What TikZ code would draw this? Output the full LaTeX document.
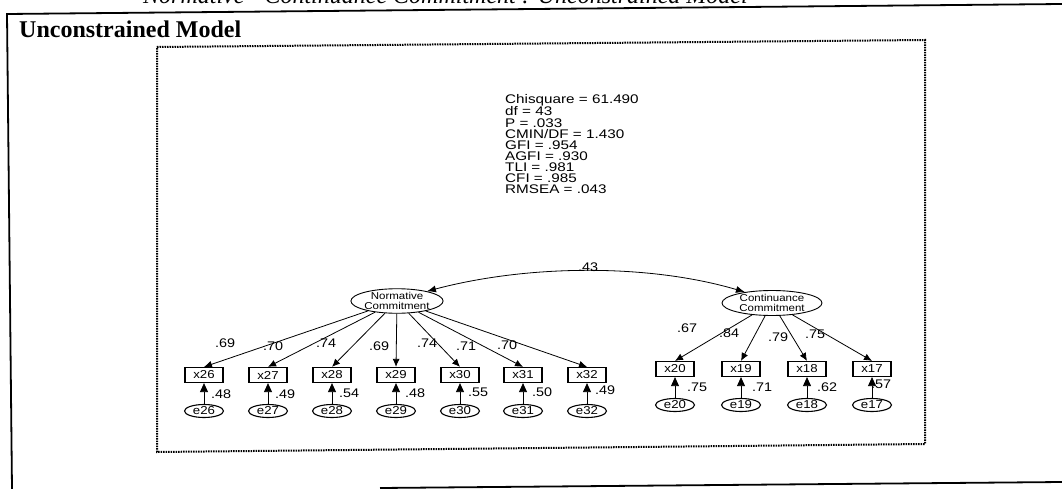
\documentclass[tikz,border=0pt]{standalone}
\usepackage{fontspec}
\setmainfont{Liberation Serif}
\newfontfamily\amos[FakeStretch=1.15]{Liberation Sans}
\newfontfamily\amosfit[FakeStretch=1.22]{Liberation Sans}
\usetikzlibrary{arrows.meta,shapes.geometric}
\begin{document}
\begin{tikzpicture}[x=1pt,y=-1pt,
  obs/.style={draw, line width=1.2pt, minimum width=38pt, minimum height=15pt, inner sep=0pt, font=\amos\fontsize{11.5}{11.5}\selectfont},
  err/.style={ellipse, draw, line width=1.1pt, minimum width=39pt, minimum height=13pt, inner sep=0pt, font=\amos\fontsize{11.5}{11.5}\selectfont},
  lat/.style={ellipse, draw, line width=0.9pt, inner sep=0pt, align=center, font=\amos\fontsize{10}{10}\selectfont},
  load/.style={-{Latex[length=8pt,width=7pt]}, line width=0.8pt},
  errarr/.style={-{Triangle[length=9pt,width=8pt]}, line width=0.8pt},
  coef/.style={font=\amos\fontsize{12.5}{12.5}\selectfont, inner sep=0pt},
  frame/.style={line width=1.8pt},
  dotbox/.style={line width=2pt, dash pattern=on 1.5pt off 1pt},
]
\useasboundingbox (0,0) rectangle (1062,489);
\clip (0,0) rectangle (1062,489);

% cut title
\node[anchor=base west, inner sep=0pt, font=\itshape\fontsize{24}{24}\selectfont] (title) at (143,4) {Normative - Continuance Commitment : Unconstrained Model};

% outer frame
\coordinate (ftr) at (1062,4);
\coordinate (ftl) at (7,14);
\coordinate (fbl) at (12,489);
\coordinate (bbl) at (380,488);
\coordinate (bbr) at (1062,482);
\draw[frame] (ftr) -- (ftl) -- (fbl);
\draw[frame] (bbl) -- (bbr);

\node[anchor=base west, inner sep=0pt, font=\bfseries\fontsize{24}{24}\selectfont] (head) at (19,38) {Unconstrained Model};

% dotted box
\coordinate (d1) at (157,47);
\coordinate (d2) at (925,40);
\coordinate (d3) at (925,444);
\coordinate (d4) at (157,452);
\draw[dotbox] (d1) -- (d2) -- (d3) -- (d4) -- cycle;

% fit statistics
\node[anchor=north west, inner sep=0pt, align=left, font=\amosfit\fontsize{12.5}{11.1}\selectfont] (fit) at (505,94)
{Chisquare = 61.490\\df = 43\\P = .033\\CMIN/DF = 1.430\\GFI = .954\\AGFI = .930\\TLI = .981\\CFI = .985\\RMSEA = .043};

% latent variables
\node[lat, minimum width=91pt, minimum height=24pt] (N) at (397,301) {Normative\\Commitment};
\node[lat, minimum width=100pt, minimum height=25pt] (C) at (772,303) {Continuance\\Commitment};

% observed and errors (left)
\foreach \n/\x in {26/204,27/268,28/332,29/396,30/460,31/523,32/587}{
  \node[obs] (x\n) at (\x,375) {x\n};
  \node[err] (e\n) at (\x,411) {e\n};
}
\foreach \n/\x in {20/675,19/741,18/807,17/872}{
  \node[obs] (x\n) at (\x,369) {x\n};
  \node[err] (e\n) at (\x,405) {e\n};
}

% loadings
\foreach \n in {26,27,28,29,30,31,32}{
  \draw[load] (N) -- (x\n.north);
  \draw[errarr] (e\n.north) -- (x\n.south);
}
\foreach \n in {20,19,18,17}{
  \draw[load] (C) -- (x\n.north);
  \draw[errarr] (e\n.north) -- (x\n.south);
}

% covariance
\draw[{Latex[length=9pt,width=7pt]}-{Latex[length=9pt,width=7pt]}, line width=0.8pt] (N.18) .. controls (530,264) and (650,264) .. (C.158);
\node[coef] (r) at (588,267) {.43};

% loading labels
\node[coef] (l26) at (225,343) {.69};
\node[coef] (l27) at (273,346) {.70};
\node[coef] (l28) at (326,343) {.74};
\node[coef] (l29) at (379,346) {.69};
\node[coef] (l30) at (427,343) {.74};
\node[coef] (l31) at (466,346) {.71};
\node[coef] (l32) at (507,345) {.70};
\node[coef] (l20) at (687,328) {.67};
\node[coef] (l19) at (729,333) {.84};
\node[coef] (l18) at (778,337) {.79};
\node[coef] (l17) at (815,334) {.75};

% squared multiple correlations
\node[coef] (r26) at (221,394) {.48};
\node[coef] (r27) at (285,394) {.49};
\node[coef] (r28) at (349,393) {.54};
\node[coef] (r29) at (415,393) {.48};
\node[coef] (r30) at (478,392) {.55};
\node[coef] (r31) at (542,392) {.50};
\node[coef] (r32) at (605,390) {.49};
\node[coef] (r20) at (697,387) {.75};
\node[coef] (r19) at (762,387) {.71};
\node[coef] (r18) at (827,387) {.62};
\node[coef] (r17) at (881,384) {.57};
\end{tikzpicture}
\end{document}
